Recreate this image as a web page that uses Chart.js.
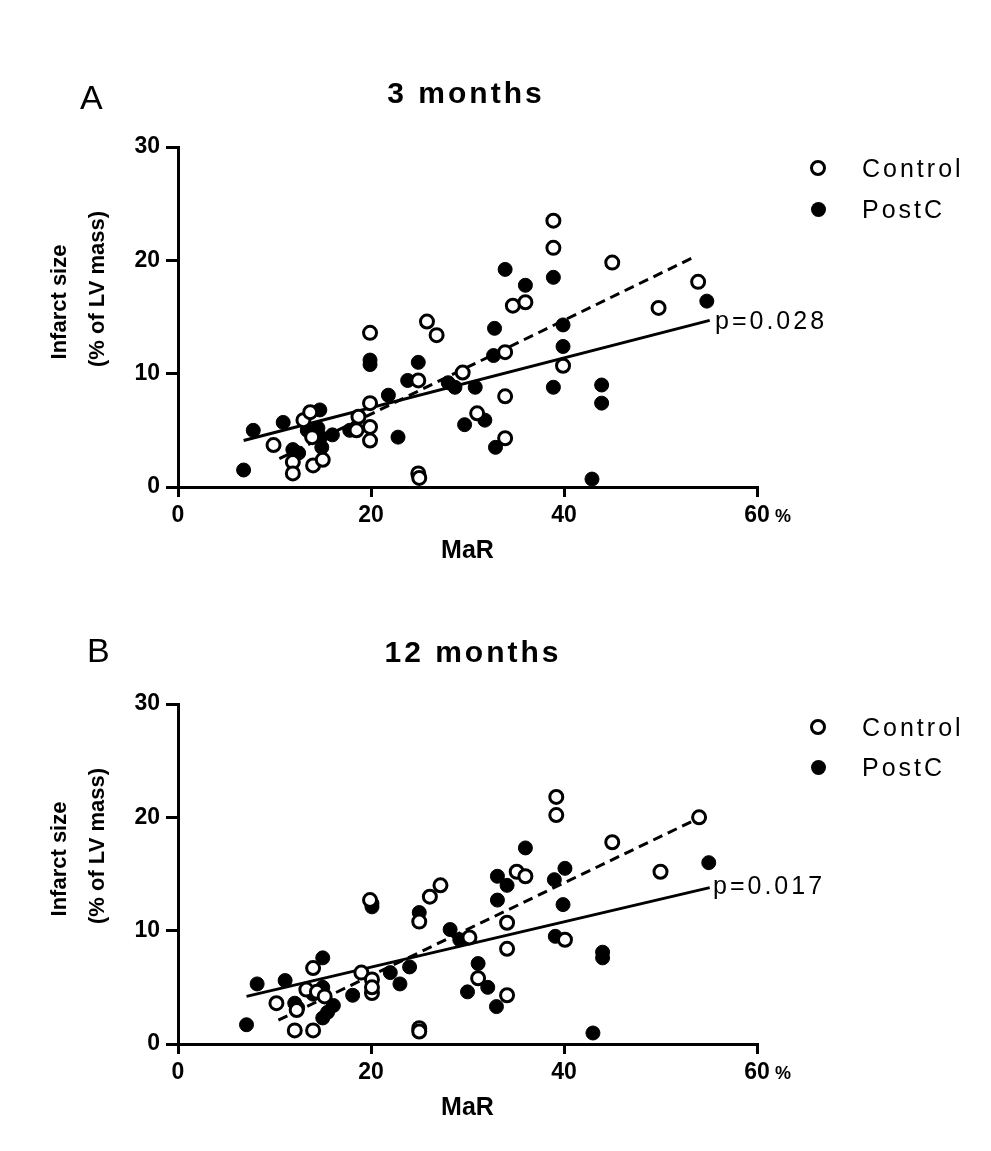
<!DOCTYPE html>
<html>
<head>
<meta charset="utf-8">
<script src="https://cdn.jsdelivr.net/npm/chart.js@4/dist/chart.umd.min.js"></script>
<style>
  html, body { margin: 0; padding: 0; background: #fff; }
  body { width: 991px; height: 1151px; position: relative; overflow: hidden; font-family: "Liberation Sans", Arial, sans-serif; color: #000; }
  canvas { position: absolute; left: 0; }
  .t { position: absolute; white-space: nowrap; line-height: 1; }
  .r { position: absolute; white-space: nowrap; line-height: 1; transform: translate(-50%, -50%) rotate(-90deg); font-weight: bold; }
  .mk { position: absolute; border-radius: 50%; box-sizing: border-box; }
</style>
</head>
<body>
<canvas id="cA" width="991" height="580" style="top:0px"></canvas>
<canvas id="cB" width="991" height="591" style="top:560px"></canvas>
<script>
// ---------- data ----------
const panelLetters = ["A", "B"];
const panelTitles = ["3 months", "12 months"];
const seriesNames = ["Control", "PostC"];
const pValues = ["p=0.028", "p=0.017"];
const xTicks = [0, 20, 40, 60];
const yTicks = [0, 10, 20, 30];
const xTitle = "MaR";
const yTitle = ["Infarct size", "(% of LV mass)"];

// Panel A (3 months) — [MaR %, infarct size %]
const controlA = [[9.9,3.7],[11.9,2.2],[11.9,1.2],[13,5.9],[13.7,6.6],[14,1.9],[15,2.4],[13.9,4.4],[18.7,6.2],[19.9,7.4],[19.9,5.3],[19.9,4.1],[18.5,5.0],[19.9,13.6],[24.9,9.4],[24.9,1.2],[25,0.8],[25.8,14.6],[26.8,13.4],[29.5,10.1],[31,6.5],[33.9,11.9],[33.9,8.0],[33.9,4.3],[34.7,16.0],[36,16.3],[38.9,23.5],[38.9,21.1],[39.9,10.7],[45,19.8],[49.8,15.8],[53.9,18.1]];
const postcA = [[6.8,1.5],[7.8,5.0],[10.9,5.7],[11.9,3.3],[12.5,3.0],[13.4,5.0],[14.5,5.2],[14.7,6.8],[14.8,4.4],[14.9,3.5],[16,4.6],[17.8,5.0],[19.9,11.2],[19.9,10.8],[21.8,8.1],[22.8,4.4],[23.8,9.4],[24.9,11.0],[28,9.2],[28.7,8.8],[29.7,5.5],[30.8,8.8],[31.8,5.9],[32.8,14.0],[32.7,11.6],[32.9,3.5],[33.9,19.2],[36,17.8],[38.9,18.5],[38.9,8.8],[39.9,14.3],[39.9,12.4],[42.9,0.7],[43.9,9.0],[43.9,7.4],[54.8,16.4]];
const fitControlA = [[10.5,2.5],[53.5,20.3]];
const fitPostcA = [[6.8,4.1],[55.1,14.7]];

// Panel B (12 months)
const controlB = [[10.2,3.6],[12.1,1.2],[12.3,3.0],[14,1.2],[14,6.7],[13.3,4.8],[14.4,4.6],[15.2,4.2],[19.9,12.7],[19,6.3],[20.1,5.7],[20.1,4.5],[20.1,5.0],[25,1.4],[25,1.1],[25,10.8],[26.1,13],[27.2,14],[30.2,9.4],[31.1,5.8],[34.1,10.7],[34.1,8.4],[34.1,4.3],[35.1,15.2],[36,14.8],[39.2,21.8],[39.2,20.2],[40.1,9.2],[45,17.8],[50,15.2],[54,20]];
const postcB = [[7.1,1.7],[8.2,5.3],[11.1,5.6],[12.1,3.6],[12.4,3.2],[14,4.4],[15,7.6],[15,5.0],[15,2.3],[15.5,2.8],[16.1,3.4],[18.1,4.3],[20.1,12.1],[20.1,12.4],[22,6.3],[23,5.3],[24,6.8],[25,11.6],[28.2,10.1],[29.2,9.2],[30,4.6],[31.1,7.1],[32.1,5.0],[33,3.3],[33.1,14.8],[34.1,14.0],[33.1,12.7],[36,17.3],[39,14.5],[40.1,15.5],[39.9,12.3],[39.1,9.5],[44,8.1],[44,7.6],[43,0.97],[55,16.0]];
const fitControlB = [[10.4,2.1],[53.9,19.9]];
const fitPostcB = [[7.1,4.2],[55.1,13.8]];

// ---------- helpers ----------
const FONT = "'Liberation Sans', Arial, sans-serif";
const toXY = arr => arr.map(p => ({x: p[0], y: p[1]}));

function addText(txt, x, y, size, opts) {
  opts = opts || {};
  const d = document.createElement('div');
  d.className = 't';
  d.textContent = txt;
  d.style.fontSize = size + 'px';
  d.style.fontWeight = opts.bold ? 'bold' : 'normal';
  if (opts.spacing) d.style.letterSpacing = opts.spacing + 'px';
  d.style.top = (y - 0.49 * size) + 'px';
  d.style.left = x + 'px';
  if (opts.center) d.style.transform = 'translateX(-50%)';
  document.body.appendChild(d);
}
function addRotated(txt, cx, cy, size) {
  const d = document.createElement('div');
  d.className = 'r';
  d.textContent = txt;
  d.style.fontSize = size + 'px';
  d.style.left = cx + 'px';
  d.style.top = cy + 'px';
  document.body.appendChild(d);
}
function addMarker(cx, cy, filled) {
  const m = document.createElement('div');
  m.className = 'mk';
  const d = filled ? 15 : 16;
  m.style.width = d + 'px'; m.style.height = d + 'px';
  m.style.left = (cx - d / 2) + 'px'; m.style.top = (cy - d / 2) + 'px';
  if (filled) { m.style.background = '#000'; }
  else { m.style.background = '#fff'; m.style.border = '3px solid #000'; }
  document.body.appendChild(m);
}

function makeChart(id, ctrl, postc, fitC, fitP, padTop, padBottom) {
  const tickFont = {family: FONT, size: 23, weight: 'bold'};
  new Chart(document.getElementById(id), {
    type: 'scatter',
    data: {
      datasets: [
        {label: seriesNames[0], data: toXY(ctrl), pointStyle: 'circle', pointRadius: 6.5, pointBorderWidth: 3,
         pointBackgroundColor: '#fff', pointBorderColor: '#000', clip: false},
        {label: seriesNames[1], data: toXY(postc), pointStyle: 'circle', pointRadius: 7, pointBorderWidth: 1,
         pointBackgroundColor: '#000', pointBorderColor: '#000', clip: false},
        {label: 'fitControl', data: toXY(fitC), showLine: true, pointRadius: 0, borderColor: '#000',
         borderWidth: 3, borderDash: [10, 6], clip: false},
        {label: 'fitPostC', data: toXY(fitP), showLine: true, pointRadius: 0, borderColor: '#000',
         borderWidth: 3, clip: false}
      ]
    },
    options: {
      responsive: false,
      animation: false,
      events: [],
      layout: {padding: {top: padTop, left: 0, right: 234, bottom: padBottom}},
      plugins: {legend: {display: false}, tooltip: {enabled: false}, title: {display: false}},
      scales: {
        x: {
          type: 'linear', min: xTicks[0], max: xTicks[xTicks.length - 1], position: 'bottom',
          afterBuildTicks: s => { s.ticks = xTicks.map(v => ({value: v})); },
          ticks: {font: tickFont, color: '#000', padding: 5, maxRotation: 0, autoSkip: false},
          grid: {display: true, drawOnChartArea: false, drawTicks: true, tickLength: 10, lineWidth: 3, color: '#000'},
          border: {display: true, width: 3, color: '#000'},
          title: {display: true, text: xTitle, color: '#000', font: {family: FONT, size: 25, weight: 'bold', lineHeight: 1.2}, padding: {top: 0, bottom: 6}},
          afterFit: s => { s.height = 85; }
        },
        y: {
          type: 'linear', min: yTicks[0], max: yTicks[yTicks.length - 1],
          afterBuildTicks: s => { s.ticks = yTicks.map(v => ({value: v})); },
          ticks: {font: tickFont, color: '#000', padding: 6, autoSkip: false},
          grid: {display: true, drawOnChartArea: false, drawTicks: true, tickLength: 12, lineWidth: 3, color: '#000'},
          border: {display: true, width: 3, color: '#000'},
          title: {display: false},
          afterFit: s => { s.width = 178; }
        }
      }
    }
  });
}

makeChart('cA', controlA, postcA, fitControlA, fitPostcA, 147, 580 - 487 - 85);
makeChart('cB', controlB, postcB, fitControlB, fitPostcB, 144, 591 - 484 - 85);

// ---------- text overlays ----------
// y-axis titles (two lines, rotated)
addRotated(yTitle[0], 59, 302, 22);
addRotated(yTitle[1], 97, 289, 22);
addRotated(yTitle[0], 59, 859, 22);
addRotated(yTitle[1], 97, 846, 22);
// panel letters
addText(panelLetters[0], 80, 97, 34);
addText(panelLetters[1], 87, 650, 34);
// titles
addText(panelTitles[0], 466, 93, 30, {bold: true, center: true, spacing: 3});
addText(panelTitles[1], 473, 652, 30, {bold: true, center: true, spacing: 3});
// legends
addMarker(818, 168, false); addText(seriesNames[0], 862, 168, 25, {spacing: 3});
addMarker(818, 209, true);  addText(seriesNames[1], 862, 209, 25, {spacing: 3});
addMarker(818, 727, false); addText(seriesNames[0], 862, 727, 25, {spacing: 3});
addMarker(818, 767, true);  addText(seriesNames[1], 862, 767, 25, {spacing: 3});
// p values
addText(pValues[0], 715, 320, 25, {spacing: 3});
addText(pValues[1], 713, 885, 25, {spacing: 3});
// percent unit after 60
addText('%', 775, 516, 18, {bold: true});
addText('%', 775, 1073, 18, {bold: true});
</script>
</body>
</html>
